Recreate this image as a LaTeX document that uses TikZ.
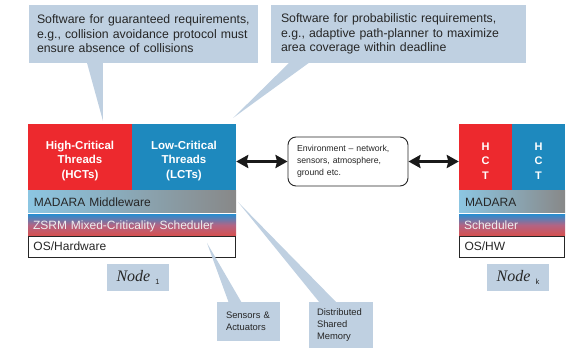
\documentclass[tikz,border=0pt]{standalone}
\usepackage{fontspec}
\setmainfont{Liberation Sans}
\newfontfamily\labelserif{Liberation Serif}
\usetikzlibrary{arrows.meta,calc}

\definecolor{calloutfill}{RGB}{191,208,225}
\definecolor{hcred}{RGB}{237,41,46}
\definecolor{lcblue}{RGB}{30,137,190}
\definecolor{mwleft}{RGB}{140,198,226}
\definecolor{mwright}{RGB}{136,136,136}
\definecolor{schtop}{RGB}{45,140,205}
\definecolor{schmid}{RGB}{178,100,132}
\definecolor{schbot}{RGB}{214,80,80}
\definecolor{schtext}{RGB}{238,238,238}

\newcommand\nodecap[1]{{\labelserif\itshape\fontsize{16}{16}\selectfont Node}\hspace{5pt}\raisebox{-3pt}{\fontsize{7.5}{8}\selectfont #1}}
% strut that pushes a centred text block a little lower
\newcommand\lowerstrut{\rule{0pt}{15pt}}

\tikzset{
  callout/.style={fill=calloutfill, align=left, inner ysep=0pt,
    font=\fontsize{12.3}{14.5}\selectfont, text=black!85},
  smallcallout/.style={fill=calloutfill, align=left, inner ysep=0pt,
    font=\fontsize{9.4}{11.6}\selectfont, text=black!85},
  threadbox/.style={minimum width=104pt, minimum height=67pt, inner sep=0pt,
    align=center, text=white, font=\bfseries\fontsize{11.5}{14.5}\selectfont},
  letterbox/.style={minimum width=53pt, minimum height=67pt, inner sep=0pt,
    align=center, text=white, font=\bfseries\fontsize{11}{14.5}\selectfont},
  mwband/.style={left color=mwleft, right color=mwright, minimum height=22pt,
    inner xsep=6pt, inner ysep=0pt, align=left, text height=8.8pt, text depth=0pt,
    font=\fontsize{12}{14}\selectfont, text=black!85},
  schband/.style={top color=schtop, bottom color=schbot, middle color=schmid,
    minimum height=21pt, inner xsep=5pt, inner ysep=0pt, align=left,
    text height=8.8pt, text depth=0pt, text=schtext,
    font=\fontsize{12}{14}\selectfont},
  osbox/.style={draw=black!85, line width=0.8pt, fill=white, minimum height=21pt,
    inner xsep=5.5pt, inner ysep=0pt, align=left, text height=8.8pt, text depth=0pt,
    font=\fontsize{12}{14}\selectfont, text=black!85},
  nodelabel/.style={fill=calloutfill, minimum width=62pt, minimum height=27pt,
    inner sep=0pt, text=black!85},
  envbox/.style={draw=black!85, line width=0.9pt, rounded corners=8pt, fill=white,
    align=left, text width=102pt, inner xsep=9pt, minimum height=49pt,
    font=\fontsize{8.7}{12.2}\selectfont, text=black!85},
  bigarrow/.style={line width=2.8pt, black!90,
    {Stealth[length=12pt,width=13pt,inset=1.5pt]}-{Stealth[length=12pt,width=13pt,inset=1.5pt]}},
  tail/.style={fill=calloutfill}
}

\begin{document}
\begin{tikzpicture}[x=1pt,y=-1pt]
\path[use as bounding box] (0,0) rectangle (571,350);

% ---- Node 1 stack ----
\node[threadbox, fill=hcred]  (hct1) at (80,157.5)  {\lowerstrut High-Critical\\Threads\\(HCTs)};
\node[threadbox, fill=lcblue] (lct1) at (184,157.5) {\lowerstrut Low-Critical\\Threads\\(LCTs)};
\node[mwband, text width=196pt]  (mw1)  at (132,202)   {MADARA Middleware};
\node[schband, text width=198pt, yshift=-1.5pt] (sch1) at (132,223.5) {ZSRM Mixed-Criticality Scheduler};
\node[osbox, text width=196pt]  (os1)  at (131.5,246.5) {OS/Hardware};
\node[nodelabel] (lab1) at (138,277.5) {\nodecap{1}};

% ---- Node k stack ----
\node[letterbox, fill=hcred]  (hctk) at (485.5,157.5) {\lowerstrut H\\C\\T};
\node[letterbox, fill=lcblue] (lctk) at (538.5,157.5) {\lowerstrut H\\C\\T};
\node[mwband, text width=94pt]  (mwk)  at (512,202)   {MADARA};
\node[schband, text width=96pt, yshift=-1.5pt] (schk) at (512,223.5) {Scheduler};
\node[osbox, text width=94pt]  (osk)  at (511.5,246.5) {OS/HW};
\node[nodelabel] (labk) at (518,277.5) {\nodecap{k}};

% ---- Environment and links ----
\node[envbox] (env) at (348,161.5) {Environment -- network,\\sensors, atmosphere,\\ground etc.};
\draw[bigarrow] (lct1.east |- env.west) -- (env.west);
\draw[bigarrow] (env.east) -- (env.east -| hctk.west);

% ---- Callouts ----
\node[callout, text width=213pt, inner xsep=8pt, minimum height=58pt] (c1) at (143.5,34)
  {Software for guaranteed requirements,\\e.g., collision avoidance protocol must\\ensure absence of collisions};
\node[callout, text width=235pt, inner xsep=10pt, minimum height=58pt] (c2) at (398.5,34)
  {Software for probabilistic requirements,\\e.g., adaptive path-planner to maximize\\area coverage within deadline};
\node[smallcallout, text width=45pt, inner xsep=9pt, minimum height=39pt] (sens) at (248.5,321.5)
  {Sensors \&\\Actuators};
\node[smallcallout, text width=48pt, inner xsep=8pt, minimum height=46pt] (dsm) at (341,325)
  {Distributed\\Shared\\Memory};

\coordinate (t1) at (103,121);
\coordinate (t2) at (233,118);
\coordinate (t3) at (207,243);
\coordinate (t4) at (238,202);

\fill[tail] ([xshift=58pt,yshift=1pt]c1.south west) -- ([xshift=74pt,yshift=1pt]c1.south west) -- (t1) -- cycle;
\fill[tail] ([xshift=19pt,yshift=1pt]c2.south west) -- ([xshift=39pt,yshift=1pt]c2.south west) -- (t2) -- cycle;
\fill[tail] ([xshift=12pt,yshift=-1pt]sens.north west) -- ([xshift=25pt,yshift=-1pt]sens.north west) -- (t3) -- cycle;
\fill[tail] ([xshift=11pt,yshift=-1pt]dsm.north west) -- ([xshift=28pt,yshift=-1pt]dsm.north west) -- (t4) -- cycle;
\end{tikzpicture}
\end{document}
